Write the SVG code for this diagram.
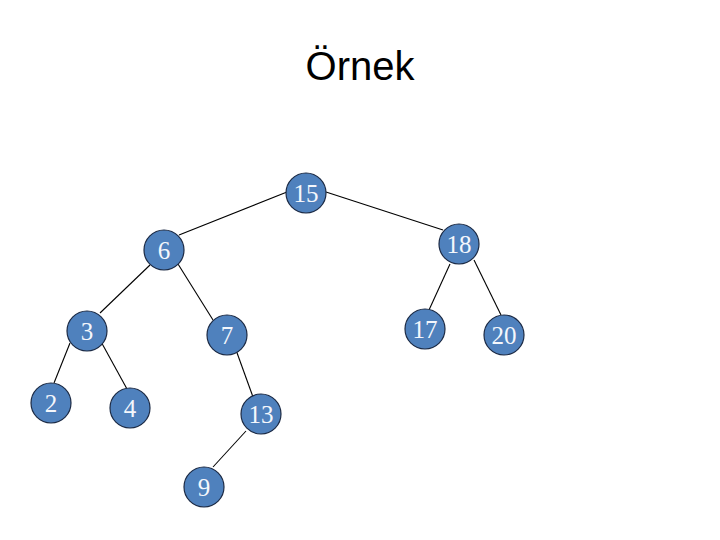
<svg xmlns="http://www.w3.org/2000/svg" width="720" height="540" viewBox="0 0 720 540">
<style>
.n circle{fill:#4f81bd;stroke:#1c2a44;stroke-width:1.2}
.n text{font-family:"Liberation Serif","Times New Roman",serif;font-size:25px;fill:#f4f7fc;text-anchor:middle}
.e line{stroke:#000;stroke-width:1.1}
.t{font-family:"Liberation Sans",Arial,sans-serif;font-size:40px;fill:#000;text-anchor:middle}
</style>
<rect width="720" height="540" fill="#fff"/>
<text class="t" x="360" y="80">Örnek</text>
<g id="connectors" class="e">
<line x1="287" y1="192" x2="179" y2="235"/>
<line x1="326" y1="192" x2="443" y2="230"/>
<line x1="150" y1="265" x2="100" y2="313"/>
<line x1="178" y1="264" x2="213" y2="320"/>
<line x1="450" y1="264" x2="429" y2="310"/>
<line x1="474" y1="260" x2="501" y2="315"/>
<line x1="70" y1="343" x2="54" y2="383"/>
<line x1="99" y1="338" x2="127" y2="389"/>
<line x1="236" y1="350" x2="253" y2="397"/>
<line x1="246" y1="431" x2="213" y2="467"/>
</g>
<g id="n15" class="n"><circle cx="306" cy="193" r="20"/><text x="306" y="202">15</text></g>
<g id="n18" class="n"><circle cx="459" cy="244" r="20"/><text x="459" y="253">18</text></g>
<g id="n6" class="n"><circle cx="164" cy="250" r="20"/><text x="164" y="259">6</text></g>
<g id="n3" class="n"><circle cx="87" cy="331" r="20"/><text x="87" y="340">3</text></g>
<g id="n7" class="n"><circle cx="227" cy="335" r="20"/><text x="227" y="344">7</text></g>
<g id="n17" class="n"><circle cx="425" cy="329" r="20"/><text x="425" y="338">17</text></g>
<g id="n20" class="n"><circle cx="504" cy="335" r="20"/><text x="504" y="344">20</text></g>
<g id="n2" class="n"><circle cx="51" cy="403" r="20"/><text x="51" y="412">2</text></g>
<g id="n4" class="n"><circle cx="130" cy="408" r="20"/><text x="130" y="417">4</text></g>
<g id="n13" class="n"><circle cx="261" cy="414" r="20"/><text x="261" y="423">13</text></g>
<g id="n9" class="n"><circle cx="204" cy="487" r="20"/><text x="204" y="496">9</text></g>
</svg>
